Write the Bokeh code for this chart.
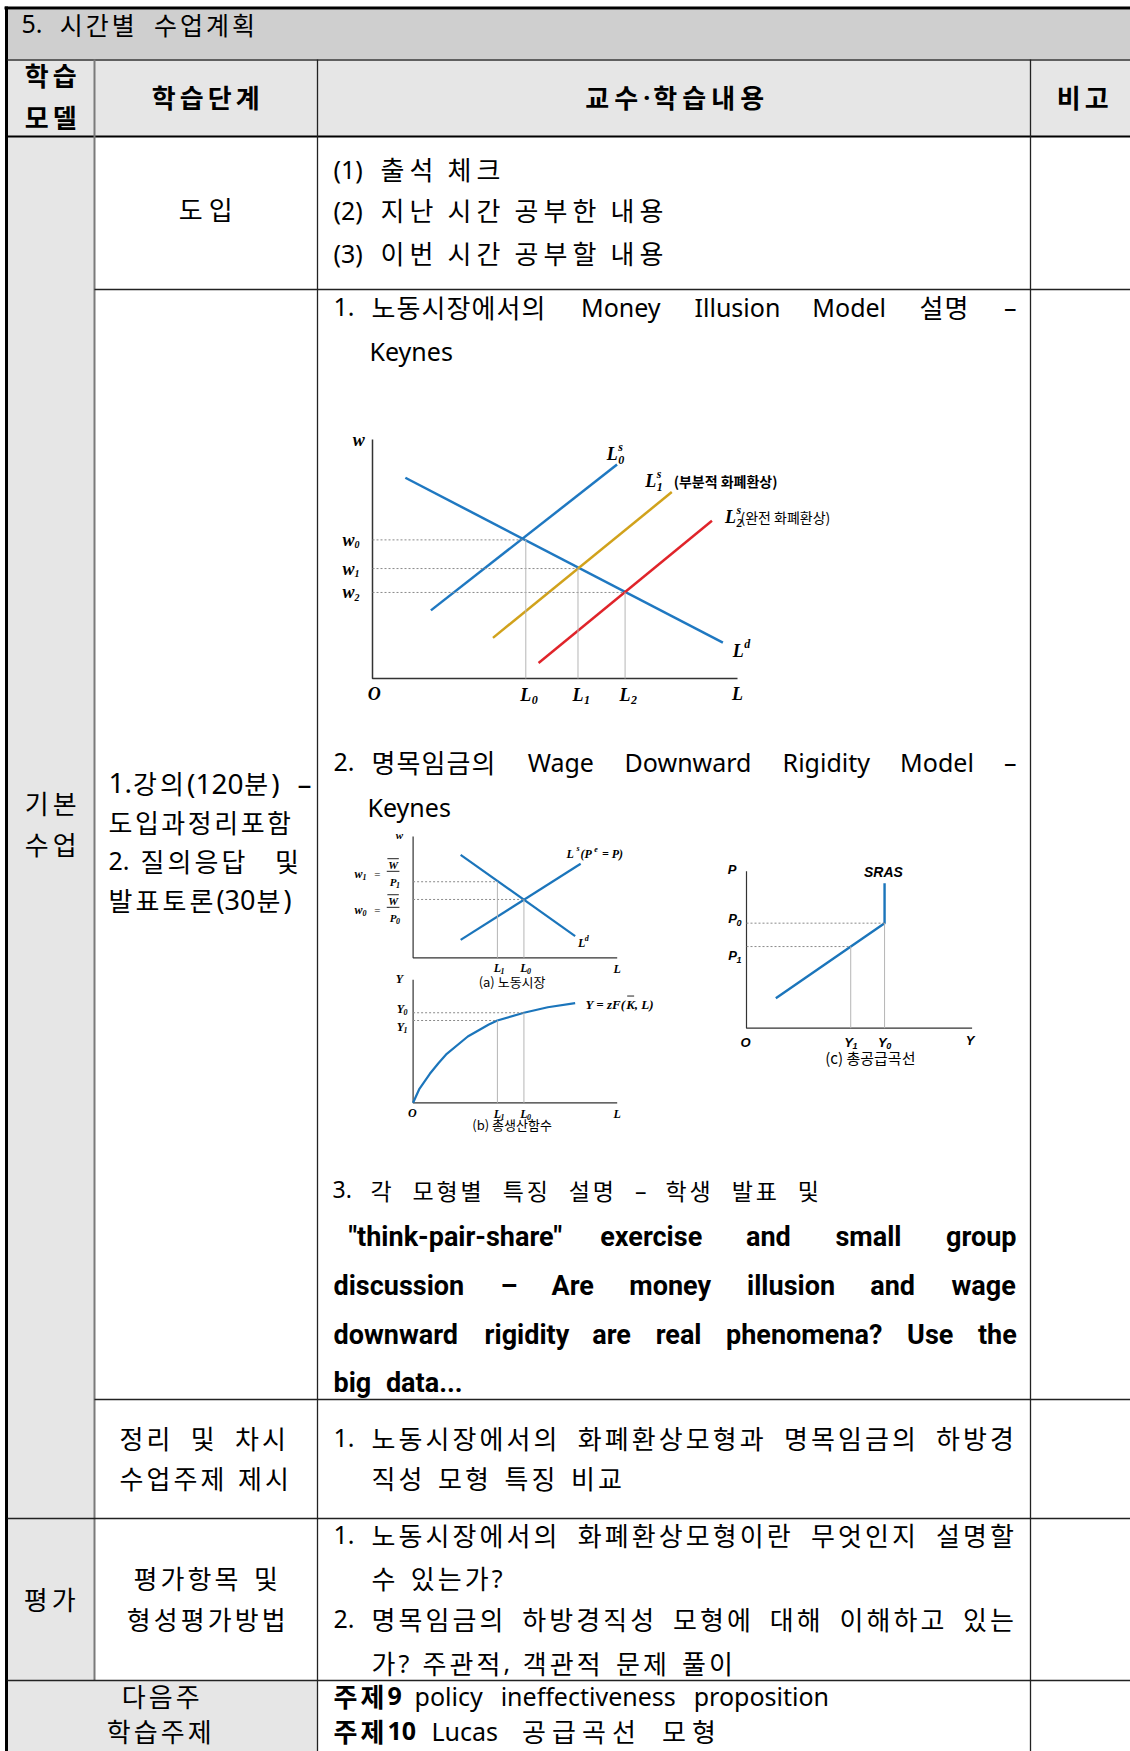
from bokeh.plotting import figure
from bokeh.models import Range1d, ColumnDataSource
from bokeh.embed import file_html
from bokeh.resources import INLINE
from bokeh.core.properties import value

# ======================= DATA =======================
# Chart 1: money illusion in the labour market (axis units 0..100)
mi_demand_x = [9, 96]
mi_demand_y = [84, 15]
mi_supply0_x = [16, 67]
mi_supply0_y = [28.5, 89.5]
mi_supply1_x = [33, 82]
mi_supply1_y = [17, 78]
mi_supply2_x = [45.5, 93]
mi_supply2_y = [6.5, 66]
mi_L = [42, 56.3, 69.2]          # L0, L1, L2
mi_w = [58, 46, 36]              # w0, w1, w2
mi_idx = ["0", "1", "2"]

# Chart 2(a): labour market with rigid nominal wage
lm_demand_x = [23.3, 79.4]
lm_demand_y = [84.9, 17.8]
lm_supply_x = [23.3, 82.1]
lm_supply_y = [14.8, 77.5]
lm_L = [41.3, 54.3]              # L1, L0
lm_w = [62.7, 48.1]              # w1, w0
lm_idx = ["1", "0"]

# Chart 2(b): production function
pf_L = [0, 3.1, 8.2, 12.4, 16.5, 26.8, 37.1, 41.3, 54.3, 66.0, 79.4]
pf_Y = [0, 11.4, 23.6, 32.2, 39.8, 53.9, 63.7, 66.9, 73.2, 77.7, 81.0]
pf_Yk = [66.9, 73.2]             # Y1, Y0

# Chart 2(c): short-run aggregate supply
as_Y = [13, 61.2, 61.2]
as_P = [19.1, 66.9, 92.4]
as_Yk = [46.2, 61.2]             # Y1, Y0
as_Pk = [52.0, 66.9]             # P1, P0

# Table texts
title_text = "5. 시간별 수업계획"
header_texts = ["학습", "모델", "학습단계", "교수·학습내용", "비고"]
intro_lines = ["(1) 출석 체크", "(2) 지난 시간 공부한 내용", "(3) 이번 시간 공부할 내용"]
bold_lines = ['"think-pair-share" exercise and small group',
              'discussion – Are money illusion and wage',
              'downward rigidity are real phenomena? Use the',
              'big data...']

# ======================= SETUP =======================
W, H = 1130, 1751
p = figure(width=W, height=H, x_range=Range1d(0, W), y_range=Range1d(H, 0),
           x_axis_type=None, y_axis_type=None, toolbar_location=None,
           output_backend="svg", min_border=0, title=None)
p.outline_line_color = None
p.background_fill_color = "white"
p.border_fill_color = "white"

CHARTS = {"c1": (372, 678, 3.65, 2.39),
          "c2a": (412.6, 957.3, 2.041, 1.213),
          "c2b": (412.6, 1102.3, 2.041, 1.23),
          "c2c": (746, 1027.7, 2.256, 1.57)}
for name, (ox, oy, sx, sy) in CHARTS.items():
    p.extra_x_ranges[name] = Range1d((0 - ox) / sx, (W - ox) / sx)
    p.extra_y_ranges[name] = Range1d((oy - H) / sy, (oy - 0) / sy)

TEXTS = {}
SEGS = {}


def T(x, y, t, font, size, style="normal", align="left", rng="default", color="black", xo=0, yo=0):
    key = (rng, font, size, style, align, color)
    d = TEXTS.setdefault(key, dict(x=[], y=[], text=[], xo=[], yo=[]))
    d["x"].append(x); d["y"].append(y); d["text"].append(t); d["xo"].append(xo); d["yo"].append(yo)


def S(x0, y0, x1, y1, rng="default", color="black", width=1.0, dash="solid"):
    key = (rng, color, width, dash)
    d = SEGS.setdefault(key, dict(x0=[], y0=[], x1=[], y1=[]))
    d["x0"].append(x0); d["y0"].append(y0); d["x1"].append(x1); d["y1"].append(y1)


CJK = "Noto Sans CJK KR"
NS = {' ': .26, '!': .268, '"': .4, '(': .296, ')': .296, ',': .25, '-': .322, '.': .268, '?': .429,
      '–': .5, '·': .268, ':': .268,
      'a': .561, 'b': .615, 'c': .48, 'd': .615, 'e': .564, 'f': .344, 'g': .615, 'h': .618, 'i': .258,
      'j': .258, 'k': .534, 'l': .258, 'm': .94, 'n': .618, 'o': .605, 'p': .615, 'q': .615, 'r': .413,
      's': .479, 't': .361, 'u': .618, 'v': .508, 'w': .786, 'x': .529, 'y': .51, 'z': .47,
      'A': .639, 'B': .648, 'C': .632, 'D': .729, 'E': .556, 'F': .516, 'G': .728, 'H': .738, 'I': .279,
      'K': .613, 'L': .519, 'M': .907, 'N': .763, 'O': .779, 'P': .602, 'R': .618, 'S': .549, 'T': .553,
      'U': .729, 'W': .93, 'Y': .55}
for dch in "0123456789":
    NS[dch] = .572
RB = {' ': .25, '"': .33, '-': .28, '.': .27, '?': .48, '–': .56,
      'a': .55, 'b': .565, 'c': .525, 'd': .565, 'e': .535, 'f': .355, 'g': .565, 'h': .56, 'i': .255,
      'k': .52, 'l': .255, 'm': .875, 'n': .56, 'o': .57, 'p': .565, 'r': .35, 's': .52, 't': .335,
      'u': .56, 'v': .5, 'w': .76, 'x': .5, 'y': .49, 'A': .665, 'U': .65}

KS = 26   # Korean body font size


def is_h(c):
    return 0xAC00 <= ord(c) <= 0xD7A3


def layout(text, y, x0=None, x1=None, center=None, size=KS, adv=27, lsize=25, bold=False,
           lfont="Noto Sans", wtab=NS, sp=None, indent=None, dy=-3):
    if indent is not None:
        i = text.index(' ')
        layout(text[:i], y, x0=x0, size=size, adv=adv, lsize=lsize, bold=bold, lfont=lfont,
               wtab=wtab, dy=dy)
        layout(text[i + 1:], y, x0=indent, x1=x1, size=size, adv=adv, lsize=lsize, bold=bold,
               lfont=lfont, wtab=wtab, sp=sp, dy=dy)
        return
    y = y + dy
    ls = adv - size
    if sp is None:
        sp = 0.45 * adv
    wscale = 1.06 if (bold and wtab is NS) else 1.0
    toks = []
    for ch in text:
        if ch == ' ':
            toks.append(['S', ' '])
        elif is_h(ch):
            toks.append(['H', ch])
        elif toks and toks[-1][0] == 'L':
            toks[-1][1] += ch
        else:
            toks.append(['L', ch])
    advs, vis = [], []
    for k, t in toks:
        if k == 'S':
            advs.append(sp); vis.append(0)
        elif k == 'H':
            advs.append(adv); vis.append(0.9 * size)
        else:
            w = sum(wtab.get(c, .55) for c in t) * lsize * wscale
            advs.append(w + ls); vis.append(w)
    natural = sum(advs[:-1]) + vis[-1]
    if center is not None:
        x0 = center - natural / 2
    esp = ech = 0.0
    if x1 is not None:
        extra = x1 - x0 - natural
        nsp = sum(1 for k, _ in toks if k == 'S')
        if nsp:
            esp = extra / nsp
        elif len(toks) > 1:
            ech = extra / (len(toks) - 1)
    style = "bold" if bold else "normal"
    x = x0
    for (k, t), a in zip(toks, advs):
        if k == 'H':
            T(x, y, t, CJK, size, style)
        elif k == 'L':
            T(x, y, t, lfont, lsize, style)
        x += a + ech + (esp if k == 'S' else 0)


# ======================= TABLE =======================
p.quad(left=[7, 7, 7, 7], right=[1130, 1130, 94, 317], top=[9, 59, 136, 1680],
       bottom=[59, 136, 1680, 1751], fill_color=["#cfcfcf", "#e6e6e6", "#e6e6e6", "#e6e6e6"],
       line_color=None)

S(4, 7.5, 1130, 7.5, width=3)
S(6, 6, 6, 1751, width=3)
S(7, 59.5, 1130, 59.5, color="#333333", width=1.5)
S(7, 136, 1130, 136, width=2)
S(94, 59, 94, 1680, color="#7a7a7a", width=2)
S(317, 59, 317, 1751, color="#222222", width=1.3)
S(1030, 59, 1030, 1751, color="#222222", width=1.3)
S(94, 289, 1130, 289, color="#222222", width=1.3)
S(94, 1399, 1130, 1399, color="#222222", width=1.5)
S(7, 1518, 1130, 1518, color="#222222", width=1.5)
S(7, 1680, 1130, 1680, color="#222222", width=1.5)

# title and header
layout(title_text, 26, x0=21, x1=254, adv=26, size=25)
layout(header_texts[0], 77, center=50, adv=28, bold=True)
layout(header_texts[1], 119, center=50, adv=28, bold=True)
layout(header_texts[2], 99, center=205, adv=28, bold=True)
layout(header_texts[3], 99, center=674, adv=29, bold=True)
layout(header_texts[4], 99, center=1082, adv=28, bold=True)

# intro row
layout("도입", 211, center=205, adv=30)
for yy, line in zip([171, 212, 255], intro_lines):
    layout(line, yy, x0=333, adv=29, sp=9, indent=380)

# main lecture row
layout("1. 노동시장에서의 Money Illusion Model 설명 –", 309, x0=333, x1=1016, adv=25, indent=371)
layout("Keynes", 353, x0=369)
layout("2. 명목임금의 Wage Downward Rigidity Model –", 764, x0=333, x1=1016, adv=25, indent=371)
layout("Keynes", 809, x0=367)
layout("3. 각 모형별 특징 설명 – 학생 발표 및", 1192, x0=332, x1=818, size=23, adv=24, lsize=23, indent=370)
for yy, line, xs, xe in zip([1237, 1286, 1335, 1383], bold_lines,
                            [348, 333, 333, 333], [1016, 1016, 1016, None]):
    layout(line, yy, x0=xs, x1=xe, size=27, adv=27, lsize=27, bold=True, lfont="Roboto",
           wtab=RB, sp=(15 if xe is None else None), dy=-1)

layout("1.강의(120분) –", 785, x0=108, x1=311, adv=27, lsize=28)
layout("도입과정리포함", 824, x0=108, x1=290, adv=27)
layout("2. 질의응답 및", 863, x0=108, x1=298, adv=27, indent=140)
layout("발표토론(30분)", 902, x0=108, adv=27, lsize=27)
layout("기본", 805, center=50, adv=28)
layout("수업", 846, center=50, adv=28)

# summary row
layout("정리 및 차시", 1440, x0=119, x1=285, adv=27)
layout("수업주제 제시", 1480, x0=119, x1=288, adv=27)
layout("1. 노동시장에서의 화폐환상모형과 명목임금의 하방경", 1440, x0=333, x1=1013, adv=27, indent=371)
layout("직성 모형 특징 비교", 1480, x0=371, adv=27, sp=12.5)

# evaluation row
layout("평가", 1601, center=49, adv=28)
layout("평가항목 및", 1580, x0=133, x1=277, adv=27)
layout("형성평가방법", 1621, center=205.5, adv=27)
layout("1. 노동시장에서의 화폐환상모형이란 무엇인지 설명할", 1537, x0=333, x1=1013, adv=27, indent=371)
layout("수 있는가?", 1580, x0=371, adv=27)
layout("2. 명목임금의 하방경직성 모형에 대해 이해하고 있는", 1621, x0=333, x1=1013, adv=27, indent=371)
layout("가? 주관적, 객관적 문제 풀이", 1665, x0=371, adv=27)

# next week row
layout("다음주", 1698, center=160, adv=27)
layout("학습주제", 1733, center=158.5, adv=27)
layout("주제9", 1698, x0=333, adv=27, bold=True)
layout("policy ineffectiveness proposition", 1698, x0=414, sp=17)
layout("주제10", 1733, x0=333, adv=27, bold=True)
layout("Lucas 공급곡선 모형", 1733, x0=431, adv=30, sp=20)

# ======================= CHARTS =======================
SERIF = "Liberation Serif"
SANS = "Liberation Sans"
BI = "bold italic"
BLUE = "#1f78c1"
BLUE2 = "#1b75bb"
GOLD = "#d1a21c"
RED = "#e0242a"

# ---- Chart 1 ----
p.line([0, 0, 100], [100, 0, 0], x_range_name="c1", y_range_name="c1", line_color="#333333", line_width=1.5)
for L, w in zip(mi_L, mi_w):
    S(0, w, L, w, rng="c1", color="#8a8a8a", width=1, dash="2 2")
    S(L, 0, L, w, rng="c1", color="#b5b5b5", width=1)
p.line(mi_demand_x, mi_demand_y, x_range_name="c1", y_range_name="c1", line_color=BLUE, line_width=2.5)
p.line(mi_supply0_x, mi_supply0_y, x_range_name="c1", y_range_name="c1", line_color=BLUE, line_width=2.5)
p.line(mi_supply1_x, mi_supply1_y, x_range_name="c1", y_range_name="c1", line_color=GOLD, line_width=2.5)
p.line(mi_supply2_x, mi_supply2_y, x_range_name="c1", y_range_name="c1", line_color=RED, line_width=2.5)

T(-3.8, 100, "w", SERIF, 18, BI, "center", "c1")
for w, k in zip(mi_w, mi_idx):
    T(-6.6, w, "w", SERIF, 18, BI, "center", "c1")
    T(-6.6, w, k, SERIF, 10, BI, "left", "c1", xo=6, yo=5)
T(0.5, -6.4, "O", SERIF, 18, BI, "center", "c1")
for L, k in zip(mi_L, mi_idx):
    T(L, -7.1, "L", SERIF, 18, BI, "center", "c1")
    T(L, -7.1, k, SERIF, 12, BI, "left", "c1", xo=6, yo=5)
T(100, -6.4, "L", SERIF, 18, BI, "center", "c1")
for lx, ly, k in [(65.7, 94.1, "0"), (76.2, 82.8, "1"), (98.1, 67.5, "2")]:
    T(lx, ly, "L", SERIF, 18, BI, "center", "c1")
    T(lx, ly, "s", SERIF, 12, BI, "left", "c1", xo=6, yo=-7)
    T(lx, ly, k, SERIF, 12, BI, "left", "c1", xo=6, yo=6)
T(82.5, 82.8, "(부분적 화폐환상)", CJK, 14, "bold", "left", "c1")
T(100.8, 67.5, "(완전 화폐환상)", CJK, 14, "normal", "left", "c1")
T(100.2, 11.4, "L", SERIF, 18, BI, "center", "c1")
T(100.2, 11.4, "d", SERIF, 12, BI, "left", "c1", xo=6, yo=-7)

# ---- Chart 2(a) ----
p.line([0, 0, 100], [100, 0, 0], x_range_name="c2a", y_range_name="c2a", line_color="#333333", line_width=1.2)
for L, w in zip(lm_L, lm_w):
    S(0, w, L, w, rng="c2a", color="#8a8a8a", width=1, dash="2 2")
    S(L, 0, L, w, rng="c2a", color="#b5b5b5", width=1)
p.line(lm_demand_x, lm_demand_y, x_range_name="c2a", y_range_name="c2a", line_color=BLUE2, line_width=2.2)
p.line(lm_supply_x, lm_supply_y, x_range_name="c2a", y_range_name="c2a", line_color=BLUE2, line_width=2.2)
T(-6.7, 100.9, "w", SERIF, 11, BI, "center", "c2a")
for lab, k in [(lm_w[0] + 6.6, lm_idx[0]), (lm_w[1] - 8.5, lm_idx[1])]:
    T(-26.8, lab, "w", SERIF, 12, BI, "center", "c2a")
    T(-26.8, lab, k, SERIF, 8, BI, "left", "c2a", xo=4, yo=3)
    T(-17.5, lab, "=", SERIF, 11, "normal", "center", "c2a")
    T(-9.8, lab, "W", SERIF, 11, BI, "center", "c2a", yo=-9)
    T(-9.8, lab, "P", SERIF, 11, BI, "center", "c2a", yo=8.5)
    T(-9.8, lab, k, SERIF, 8, BI, "left", "c2a", xo=3, yo=11)
    S(-12.9, lab + 2, -6.7, lab + 2, rng="c2a", color="#222222", width=1)
    S(-12.6, lab + 12.4, -7.0, lab + 12.4, rng="c2a", color="#222222", width=1)
T(75.2, 85.7, "L", SERIF, 12, BI, "left", "c2a")
T(80.0, 85.7, "s", SERIF, 8, BI, "left", "c2a", yo=-5)
T(82.0, 85.7, "(P", SERIF, 12, BI, "left", "c2a")
T(88.7, 85.7, "e", SERIF, 8, BI, "left", "c2a", yo=-5)
T(92.5, 85.7, "= P)", SERIF, 12, BI, "left", "c2a")
T(80.8, 12, "L", SERIF, 12, BI, "left", "c2a")
T(84.1, 12, "d", SERIF, 8, BI, "left", "c2a", yo=-5)
for L, k in zip(lm_L, lm_idx):
    T(L, -8.6, "L", SERIF, 12, BI, "center", "c2a")
    T(L, -8.6, k, SERIF, 8, BI, "left", "c2a", xo=3, yo=3)
T(100, -9.6, "L", SERIF, 12, BI, "center", "c2a")
T(48.5, -19.5, "(a) 노동시장", CJK, 13, "normal", "center", "c2a")

# ---- Chart 2(b) ----
p.line([0, 0, 100], [100, 0, 0], x_range_name="c2b", y_range_name="c2b", line_color="#333333", line_width=1.2)
for L, Yk in zip(lm_L, pf_Yk):
    S(0, Yk, L, Yk, rng="c2b", color="#8a8a8a", width=1, dash="2 2")
    S(L, 0, L, Yk, rng="c2b", color="#b5b5b5", width=1)
p.line(pf_L, pf_Y, x_range_name="c2b", y_range_name="c2b", line_color=BLUE2, line_width=2.2)
T(-6.7, 101, "Y", SERIF, 12, BI, "center", "c2b")
for yk, k, off in [(pf_Yk[1], "0", 3.3), (pf_Yk[0], "1", -5.4)]:
    T(-6.2, yk + off, "Y", SERIF, 12, BI, "center", "c2b")
    T(-6.2, yk + off, k, SERIF, 8, BI, "left", "c2b", xo=3, yo=3)
T(84.5, 79.9, "Y = zF(", SERIF, 13, BI, "left", "c2b")
T(104.4, 79.9, "K", SERIF, 13, BI, "left", "c2b")
S(104.9, 86.8, 108.3, 86.8, rng="c2b", color="#222222", width=1)
T(108.6, 79.9, ", L)", SERIF, 13, BI, "left", "c2b")
T(-0.4, -8.5, "O", SERIF, 12, BI, "center", "c2b")
for L, k in zip(lm_L, lm_idx):
    T(L, -8.8, "L", SERIF, 12, BI, "center", "c2b")
    T(L, -8.8, k, SERIF, 8, BI, "left", "c2b", xo=3, yo=3)
T(100, -8.8, "L", SERIF, 12, BI, "center", "c2b")
T(48.5, -17.9, "(b) 총생산함수", CJK, 13, "normal", "center", "c2b")

# ---- Chart 2(c) ----
p.line([0, 0, 100], [100, 0, 0], x_range_name="c2c", y_range_name="c2c", line_color="#333333", line_width=1.2)
for Yk, Pk in zip(as_Yk, as_Pk):
    S(0, Pk, Yk, Pk, rng="c2c", color="#8a8a8a", width=1, dash="2 2")
    S(Yk, 0, Yk, Pk, rng="c2c", color="#b5b5b5", width=1)
p.line(as_Y, as_P, x_range_name="c2c", y_range_name="c2c", line_color=BLUE2, line_width=2.4)
T(-6.4, 100.9, "P", SANS, 13, BI, "center", "c2c")
T(60.7, 99.4, "SRAS", SANS, 14, BI, "center", "c2c")
for Pk, k, off in [(as_Pk[1], "0", 2.8), (as_Pk[0], "1", -5.7)]:
    T(-6.2, Pk + off, "P", SANS, 13, BI, "center", "c2c")
    T(-6.2, Pk + off, k, SANS, 9, BI, "left", "c2c", xo=4, yo=4)
T(-0.4, -8.9, "O", SANS, 13, BI, "center", "c2c")
for Yk, k in zip(as_Yk, ["1", "0"]):
    T(Yk - 1, -8.9, "Y", SANS, 13, BI, "center", "c2c")
    T(Yk - 1, -8.9, k, SANS, 9, BI, "left", "c2c", xo=4, yo=4)
T(99.1, -7.8, "Y", SANS, 13, BI, "center", "c2c")
T(54.9, -18.6, "(c) 총공급곡선", CJK, 15, "normal", "center", "c2c")

# ======================= RENDER =======================
for (rng, color, width, dash), d in SEGS.items():
    p.segment(x0="x0", y0="y0", x1="x1", y1="y1", source=ColumnDataSource(d),
              line_color=color, line_width=width, line_dash=dash,
              x_range_name=rng, y_range_name=rng)

for (rng, font, size, style, align, color), d in TEXTS.items():
    p.text(x="x", y="y", text="text", x_offset="xo", y_offset="yo", source=ColumnDataSource(d),
           text_font=value(font), text_font_size=value(f"{size}px"), text_font_style=style,
           text_align=align, text_baseline="middle", text_color=color,
           x_range_name=rng, y_range_name=rng)

open("out.html", "w").write(file_html(p, INLINE))
